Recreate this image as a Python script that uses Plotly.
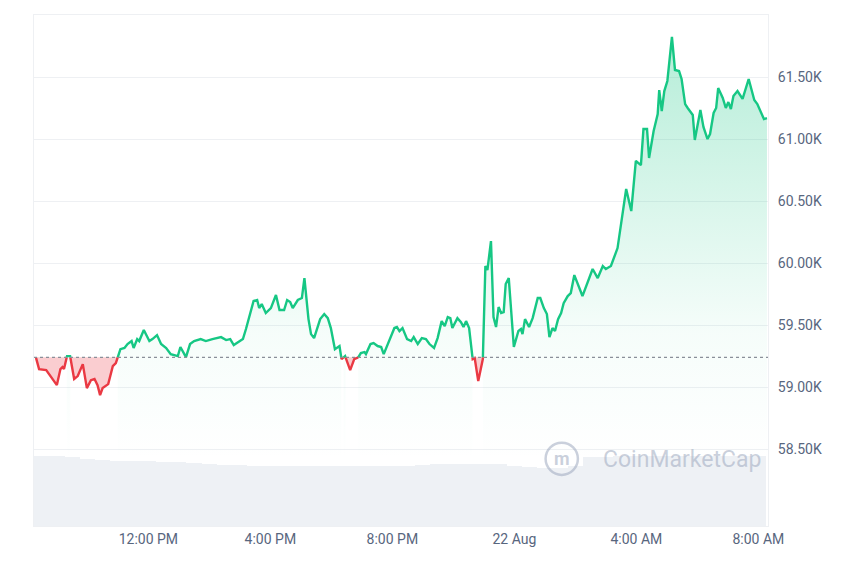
import plotly.graph_objects as go

# minutes since 2024-08-21 08:15
price_min = [4,10,24,33,45,52,56,59,65,71,79,86,96,104,112,119,125,130,135,146,155,161,170,178,184,192,196,203,207,216,227,233,242,250,260,269,283,288,299,307,315,328,338,351,368,378,386,393,401,411,417,432,439,443,448,456,466,476,483,492,498,504,509,519,527,532,540,545,551,563,571,578,584,592,601,605,612,622,630,637,643,650,653,662,668,676,683,688,696,709,714,719,725,734,742,747,755,763,771,778,787,794,802,808,814,819,823,833,840,845,850,856,863,867,874,883,888,892,899,904,909,914,919,924,928,934,944,953,958,961,966,974,981,991,996,1003,1009,1014,1020,1025,1031,1037,1042,1050,1056,1063,1069,1076,1079,1099,1109,1119,1125,1135,1141,1148,1165,1175,1184,1194,1199,1206,1210,1219,1227,1230,1235,1240,1246,1255,1261,1269,1274,1281,1286,1296,1300,1311,1317,1325,1330,1337,1342,1346,1355,1361,1366,1371,1376,1384,1394,1406,1417,1423,1436,1442]
price = [59236,59145,59137,59089,59016,59145,59161,59145,59250,59250,59065,59089,59185,58992,59056,59065,59016,58935,58992,59024,59169,59194,59306,59315,59347,59371,59315,59387,59371,59460,59371,59387,59419,59347,59315,59266,59250,59323,59242,59347,59371,59387,59371,59387,59403,59379,59387,59339,59363,59387,59468,59694,59702,59637,59669,59597,59637,59742,59621,59621,59702,59686,59637,59702,59718,59879,59548,59427,59395,59548,59589,59556,59476,59306,59331,59226,59250,59137,59226,59234,59274,59282,59266,59347,59355,59331,59323,59266,59347,59476,59484,59452,59476,59387,59371,59403,59347,59395,59387,59347,59315,59395,59532,59492,59565,59556,59476,59556,59524,59484,59532,59476,59226,59234,59048,59226,59976,59944,60177,59565,59484,59645,59597,59605,59831,59879,59323,59452,59468,59427,59548,59484,59556,59718,59718,59637,59589,59403,59476,59452,59548,59597,59677,59734,59758,59903,59839,59758,59734,59952,59879,59976,59952,59976,60040,60121,60597,60419,60823,60790,61081,61081,60847,61065,61202,61395,61226,61387,61468,61823,61557,61548,61484,61282,61250,61194,60992,61234,61097,61000,61040,61210,61250,61411,61331,61250,61298,61242,61347,61387,61323,61484,61315,61282,61161,61169]
open_price = 59240

volume_b = [42,42,41.4,40.2,39.6,39,39,39,38.4,38.4,37.8,37.2,36.6,36.6,36,36,36,36,36,36,36,36,36,36,36,36.6,37.2,37.2,37.2,37.2,37.2,36,35.4,34.8,34.8,36,41.4,41.4,42,42,42,42,42,42,42,42,42,42]
vol_min = [i * 30 + 15 for i in range(len(volume_b))]

tick_min = [225, 465, 705, 945, 1185, 1425]
tick_text = ["12:00 PM", "4:00 PM", "8:00 PM", "22 Aug", "4:00 AM", "8:00 AM"]
y_ticks = [58500, 59000, 59500, 60000, 60500, 61000, 61500]
y_text = ["58.50K", "59.00K", "59.50K", "60.00K", "60.50K", "61.00K", "61.50K"]

GREEN = "#16c784"
RED = "#ea3943"
FILL_FLOOR = 58400

segs = []
cur_above = price[0] >= open_price
xs, ys = [price_min[0]], [price[0]]
for i in range(1, len(price)):
    a = price[i] >= open_price
    if a != cur_above:
        x0, y0, x1, y1 = price_min[i-1], price[i-1], price_min[i], price[i]
        xc = x0 + (open_price - y0) * (x1 - x0) / (y1 - y0)
        xs.append(xc); ys.append(open_price)
        segs.append((cur_above, xs, ys))
        xs, ys = [xc], [open_price]
        cur_above = a
    xs.append(price_min[i]); ys.append(price[i])
segs.append((cur_above, xs, ys))

fig = go.Figure()
for above, sx, sy in segs:
    if above:
        fig.add_trace(go.Scatter(x=[sx[0], sx[-1]], y=[FILL_FLOOR, FILL_FLOOR], mode="lines",
                                 line=dict(width=0), hoverinfo="skip"))
        fig.add_trace(go.Scatter(x=sx, y=sy, mode="lines", line=dict(color=GREEN, width=2.4),
                                 fill="tonexty",
                                 fillgradient=dict(type="vertical", start=FILL_FLOOR, stop=61850,
                                                   colorscale=[[0, "rgba(22,199,132,0)"], [0.3, "rgba(22,199,132,0.04)"], [1, "rgba(22,199,132,0.32)"]]),
                                 hoverinfo="skip"))
    else:
        px = sx + sx[::-1]
        py = sy + [open_price] * len(sx)
        fig.add_trace(go.Scatter(x=px, y=py, mode="lines", line=dict(width=0), fill="toself",
                                 fillcolor="rgba(234,57,67,0.25)", hoverinfo="skip"))
        fig.add_trace(go.Scatter(x=sx, y=sy, mode="lines", line=dict(color=RED, width=2.4), hoverinfo="skip"))

fig.add_trace(go.Bar(x=vol_min, y=volume_b, width=30, marker=dict(color="#eef1f5", line=dict(width=0)),
                     yaxis="y2", hoverinfo="skip"))

fig.add_shape(type="line", xref="x", yref="y", x0=0, x1=1444, y0=open_price, y1=open_price,
              line=dict(color="#8a8f99", width=1.2, dash="dot"))

WM = "rgba(150,162,185,0.5)"
fig.add_annotation(text="CoinMarketCap", x=0.883, y=0.131, xref="paper", yref="paper", showarrow=False,
                   font=dict(family="Roboto", size=23, color=WM), xanchor="center", yanchor="middle")
fig.add_annotation(text="<b>m</b>", x=0.719, y=0.133, xref="paper", yref="paper", showarrow=False,
                   font=dict(family="Roboto", size=18, color=WM), xanchor="center", yanchor="middle")
fig.add_shape(type="circle", xref="paper", yref="paper", x0=0.697, x1=0.741, y0=0.100, y1=0.163,
              line=dict(color=WM, width=2.5))

fig.update_layout(
    width=860, height=573, margin=dict(l=26, r=100, t=7, b=55),
    plot_bgcolor="white", paper_bgcolor="white", showlegend=False, bargap=0,
    font=dict(family="Roboto", color="#58667e", size=14),
    xaxis=dict(range=[0, 1444], tickvals=tick_min, ticktext=tick_text, showgrid=False, zeroline=False,
               showline=True, linecolor="#eef0f3", mirror=True, ticks=""),
    yaxis=dict(range=[57880, 62000], side="right", tickvals=y_ticks, ticktext=y_text, gridcolor="#eef0f3",
               zeroline=False, showline=True, linecolor="#eef0f3", mirror=True, ticks="outside",
               ticklen=6, tickcolor="white"),
    yaxis2=dict(range=[0, 306.6], overlaying="y", visible=False),
)
fig.write_html("out.html")
